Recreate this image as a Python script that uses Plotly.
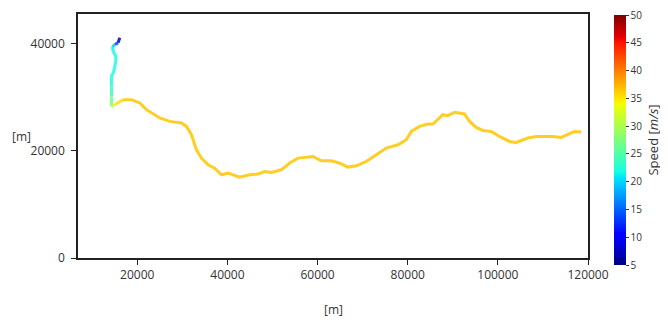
import plotly.graph_objects as go
from plotly.colors import sample_colorscale

# Path coordinates [m] and speed [m/s]
x_m = [16120, 15743, 15010, 14500, 14635, 15233, 15233, 15010, 14790, 14280,
       14280, 14280, 14280, 15010, 16852, 18714, 20554, 22040, 24990, 27205,
       29800, 30910, 32020, 33125, 34230, 35700, 37180, 38670, 40130, 42720,
       44940, 46780, 48270, 49750, 51970, 53810, 55650, 58975, 60840, 63050,
       64890, 66730, 68600, 70810, 73030, 75250, 77820, 79680, 80790, 82630,
       84470, 85580, 87800, 88900, 90390, 92610, 93710, 95200, 96660, 98525,
       100370, 102580, 104070, 106640, 108500, 110720, 112180, 114050, 115150,
       116990, 118480]
y_m = [41150, 40213, 39895, 39464, 38640, 37703, 36767, 35830, 34894, 33957,
       32085, 30211, 28338, 28657, 29594, 29594, 28975, 27720, 26170, 25530,
       25230, 24590, 23040, 20230, 18670, 17420, 16800, 15550, 15860, 15115,
       15550, 15680, 16165, 15980, 16480, 17740, 18670, 18970, 18170, 18170,
       17740, 16990, 17230, 18040, 19290, 20550, 21165, 22100, 23655, 24590,
       25040, 25040, 26780, 26600, 27215, 26915, 25530, 24405, 23840, 23655,
       22720, 21780, 21595, 22420, 22720, 22720, 22720, 22530, 22910,
       23655, 23545]
speed = [6, 9, 18, 21, 22, 22, 22, 22, 22, 22,
         22, 25, 29, 34, 36.5, 36.5, 36.5, 36.5, 36.5, 36.5,
         36.5, 36.5, 36.5, 36.5, 36.5, 36.5, 36.5, 36.5, 36.5, 36.5,
         36.5, 36.5, 36.5, 36.5, 36.5, 36.5, 36.5, 36.5, 36.5, 36.5,
         36.5, 36.5, 36.5, 36.5, 36.5, 36.5, 36.5, 36.5, 36.5, 36.5,
         36.5, 36.5, 36.5, 36.5, 36.5, 36.5, 36.5, 36.5, 36.5, 36.5,
         36.5, 36.5, 36.5, 36.5, 36.5, 36.5, 36.5, 36.5, 36.5,
         36.5, 36.5]

x_ticks = [20000, 40000, 60000, 80000, 100000, 120000]
x_tick_labels = ['20000', '40000', '60000', '80000', '100000', '120000']
y_ticks = [0, 20000, 40000]
y_tick_labels = ['0', '20000', '40000']
cbar_ticks = [5, 10, 15, 20, 25, 30, 35, 40, 45, 50]
smin, smax = 5, 50

# matplotlib-like jet colorscale
jet = [[0.0, 'rgb(0,0,128)'], [0.11, 'rgb(0,0,255)'], [0.125, 'rgb(0,0,255)'],
       [0.34, 'rgb(0,219,255)'], [0.35, 'rgb(0,230,247)'], [0.375, 'rgb(21,255,226)'],
       [0.64, 'rgb(239,255,8)'], [0.65, 'rgb(247,246,0)'], [0.66, 'rgb(255,236,0)'],
       [0.89, 'rgb(255,19,0)'], [0.91, 'rgb(232,0,0)'], [1.0, 'rgb(128,0,0)']]

fig = go.Figure()

seg_cols = []
for i in range(len(x_m) - 1):
    s = 0.5 * (speed[i] + speed[i + 1])
    seg_cols.append(sample_colorscale(jet, [(s - smin) / (smax - smin)])[0])

i = 0
while i < len(seg_cols):
    j = i
    while j + 1 < len(seg_cols) and seg_cols[j + 1] == seg_cols[i]:
        j += 1
    fig.add_trace(go.Scatter(
        x=x_m[i:j + 2], y=y_m[i:j + 2], mode='lines',
        line=dict(color=seg_cols[i], width=3), opacity=0.85,
        showlegend=False, hoverinfo='skip'))
    i = j + 1

fig.add_trace(go.Scatter(
    x=x_m, y=y_m, mode='markers', showlegend=False, hoverinfo='skip',
    marker=dict(size=1, opacity=0, color=speed, colorscale=jet, cmin=smin, cmax=smax,
                showscale=True,
                colorbar=dict(
                    x=1.05, xanchor='left', xpad=0, ypad=0,
                    y=0.4836, yanchor='middle', len=250, lenmode='pixels',
                    thickness=12, outlinewidth=0,
                    tickvals=cbar_ticks, ticks='outside', ticklen=3,
                    ticklabeloverflow='allow',
                    tickcolor='#333', tickfont=dict(size=10, color='#333'),
                    title=dict(text='Speed [<i>m/s</i>]', side='right',
                               font=dict(size=13, color='#333'))))))

axis_common = dict(showline=True, linecolor='#222', linewidth=1.5, mirror=True,
                   ticks='outside', ticklen=5, tickwidth=1.2, tickcolor='#222',
                   showgrid=False, zeroline=False, automargin=False,
                   tickfont=dict(size=12, color='#333'))

fig.update_xaxes(range=[6850, 120000], tickvals=x_ticks, ticktext=x_tick_labels,
                 **axis_common)
fig.update_yaxes(range=[0, 45600], tickvals=y_ticks, ticktext=y_tick_labels,
                 ticklabelstandoff=4, **axis_common)

fig.add_annotation(text='[m]', xref='paper', yref='paper', x=0.5, y=-0.213,
                   xanchor='center', yanchor='middle', showarrow=False,
                   font=dict(size=12, color='#333'))
fig.add_annotation(text='[m]', xref='paper', yref='paper', x=-0.134, y=0.5,
                   xanchor='left', yanchor='middle', showarrow=False,
                   font=dict(size=12, color='#333'))

# page body has an 8px default margin: size the figure to fit the window
fig.update_layout(width=660, height=312,
                  margin=dict(l=70, r=80, t=6, b=62, autoexpand=False),
                  paper_bgcolor='white', plot_bgcolor='white',
                  font=dict(family='Open Sans, sans-serif', color='#333'))

fig.write_html('out.html')
